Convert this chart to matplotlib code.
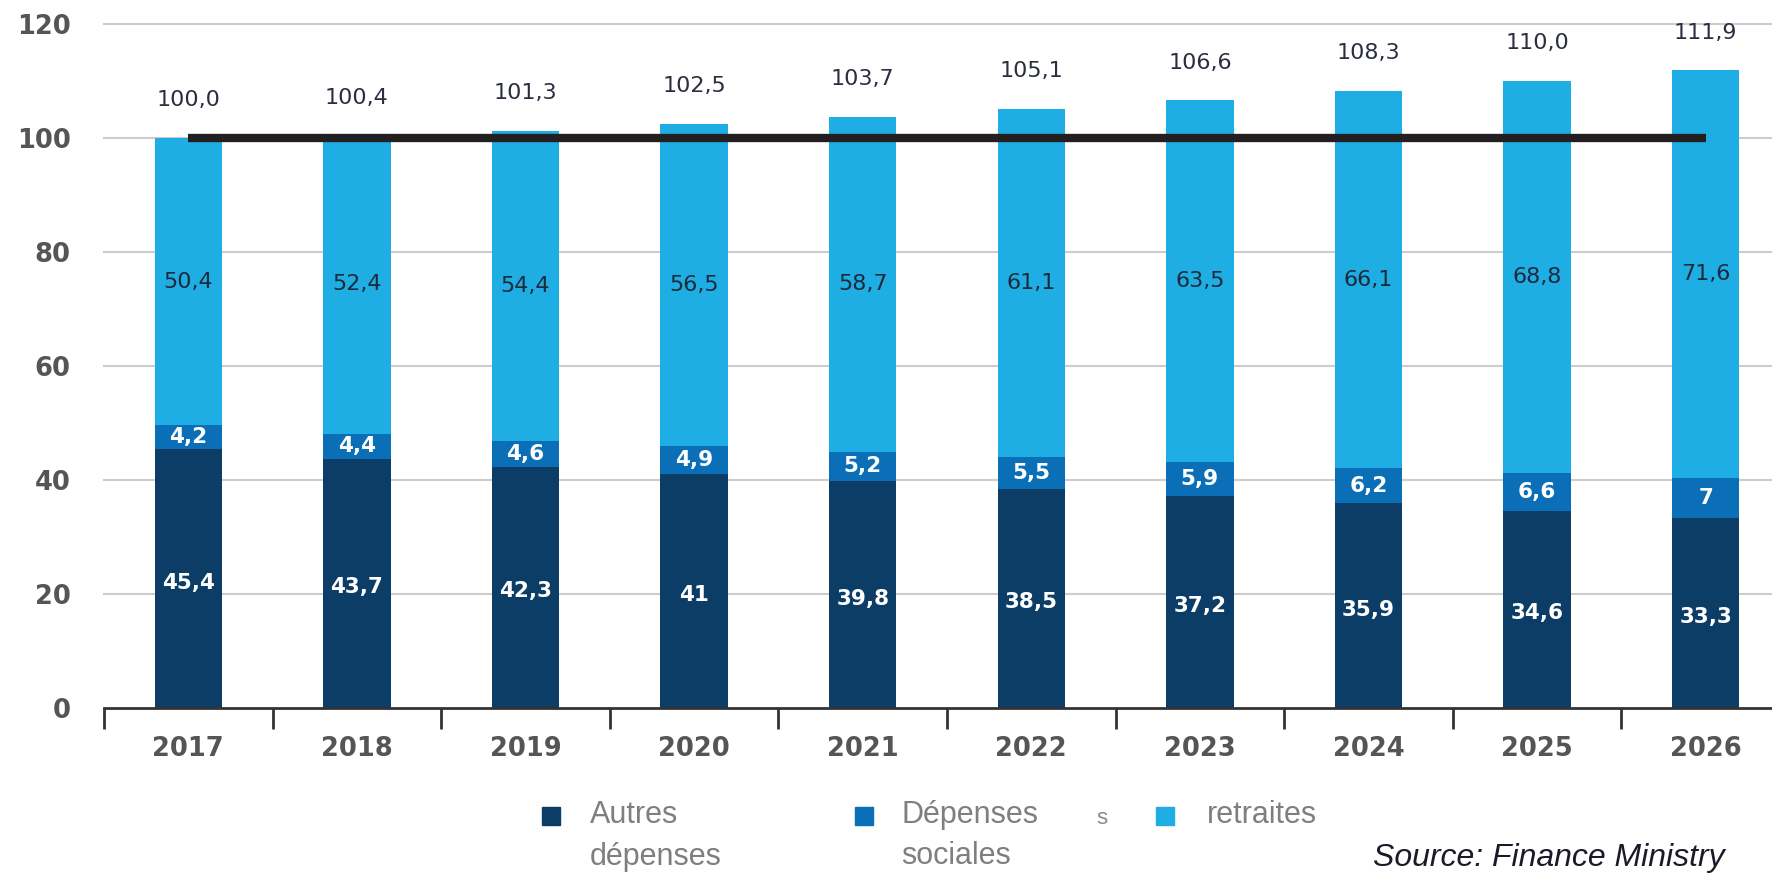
import matplotlib
matplotlib.use("Agg")
import matplotlib.pyplot as plt
from matplotlib.patches import Rectangle
import numpy as np

years = ["2017", "2018", "2019", "2020", "2021", "2022", "2023", "2024", "2025", "2026"]
autres = [45.4, 43.7, 42.3, 41.0, 39.8, 38.5, 37.2, 35.9, 34.6, 33.3]
sociales = [4.2, 4.4, 4.6, 4.9, 5.2, 5.5, 5.9, 6.2, 6.6, 7.0]
retraites = [50.4, 52.4, 54.4, 56.5, 58.7, 61.1, 63.5, 66.1, 68.8, 71.6]
totals = [100.0, 100.4, 101.3, 102.5, 103.7, 105.1, 106.6, 108.3, 110.0, 111.9]
autres_lbl = ["45,4", "43,7", "42,3", "41", "39,8", "38,5", "37,2", "35,9", "34,6", "33,3"]
sociales_lbl = ["4,2", "4,4", "4,6", "4,9", "5,2", "5,5", "5,9", "6,2", "6,6", "7"]
retraites_lbl = ["50,4", "52,4", "54,4", "56,5", "58,7", "61,1", "63,5", "66,1", "68,8", "71,6"]
totals_lbl = ["100,0", "100,4", "101,3", "102,5", "103,7", "105,1", "106,6", "108,3", "110,0", "111,9"]
reference = 100
yticks = [0, 20, 40, 60, 80, 100, 120]

c_dark = "#0b3d66"
c_mid = "#0a6fb7"
c_light = "#1eaee3"

W, H = 1772, 875
fig = plt.figure(figsize=(W / 100, H / 100), dpi=100)
ax_left = 104 / W
ax_bottom = (H - 708) / H
ax_top = (H - 24) / H
ax = fig.add_axes([ax_left, ax_bottom, 1 - ax_left, ax_top - ax_bottom])

spacing_px = 168.6
x = np.arange(len(years))

bw = 0.40
a = np.array(autres)
s = np.array(sociales)
r = np.array(retraites)
ax.bar(x, a, bw, color=c_dark, zorder=2)
ax.bar(x, s, bw, bottom=a, color=c_mid, zorder=2)
ax.bar(x, r, bw, bottom=a + s, color=c_light, zorder=2)

ax.plot([x[0], x[-1]], [reference, reference], color="#231f20", lw=6, solid_capstyle="butt", zorder=4)

num_font = "DejaVu Sans"
for i in range(len(years)):
    ax.text(x[i], a[i] / 2 - 0.7, autres_lbl[i], ha="center", va="center", color="white",
            fontsize=15.5, fontweight="bold", family=num_font, zorder=5)
    ax.text(x[i], a[i] + s[i] / 2, sociales_lbl[i], ha="center", va="center", color="white",
            fontsize=15.5, fontweight="bold", family=num_font, zorder=5)
    ax.text(x[i], a[i] + s[i] + r[i] / 2, retraites_lbl[i], ha="center", va="center", color="#1b2a3a",
            fontsize=16, family=num_font, zorder=5)
    ax.text(x[i], totals[i] + 6.6, totals_lbl[i], ha="center", va="center", color="#2a2e3e",
            fontsize=16, family=num_font, zorder=5)

# grid
ax.set_yticks(yticks)
ax.set_yticklabels([str(v) for v in yticks], family=num_font, fontweight="bold",
                   fontsize=18.5, color="#555555")
ax.tick_params(axis="y", length=0, pad=24)
for v in yticks[1:]:
    ax.axhline(v, color="#cccccc", lw=1.5, zorder=1, clip_on=False)

for sp in ["top", "right", "left"]:
    ax.spines[sp].set_visible(False)
ax.spines["bottom"].set_color("#333333")
ax.spines["bottom"].set_linewidth(2)
ax.spines["bottom"].set_zorder(3)

ax.set_xticks(x)
ax.set_xticklabels(years, family=num_font, fontweight="bold", fontsize=18.5, color="#555555")
ax.tick_params(axis="x", which="major", length=0, pad=20)
ax.set_xticks(np.arange(-0.5, 9.6, 1.0), minor=True)
ax.tick_params(axis="x", which="minor", length=15, width=2, color="#333333", direction="out")

ax.set_xlim(-0.5, (W - 104) / spacing_px - 0.5)
ax.set_ylim(0, 120)

# legend
leg_font = "Liberation Sans"
items = [(542, c_dark, 590, "Autres\ndépenses"),
         (855, c_mid, 901, "Dépenses\nsociales"),
         (1156, c_light, 1207, "retraites")]
for sx, col, tx, lbl in items:
    fig.add_artist(Rectangle((sx / W, (H - 825) / H), 18 / W, 18 / H,
                             transform=fig.transFigure, color=col))
    fig.text(tx / W, (H - 800) / H, lbl, ha="left", va="top", family=leg_font,
             fontsize=22, color="#7f7f7f", linespacing=1.5)
fig.text(1102 / W, (H - 818) / H, "s", ha="center", va="center", family=leg_font,
         fontsize=16, color="#8a8a8a")

fig.text(1373 / W, (H - 858) / H, "Source: Finance Ministry", ha="left", va="center",
         family=leg_font, style="italic", fontsize=23, color="#1a1a2a")

fig.savefig("out.png", dpi=100)
